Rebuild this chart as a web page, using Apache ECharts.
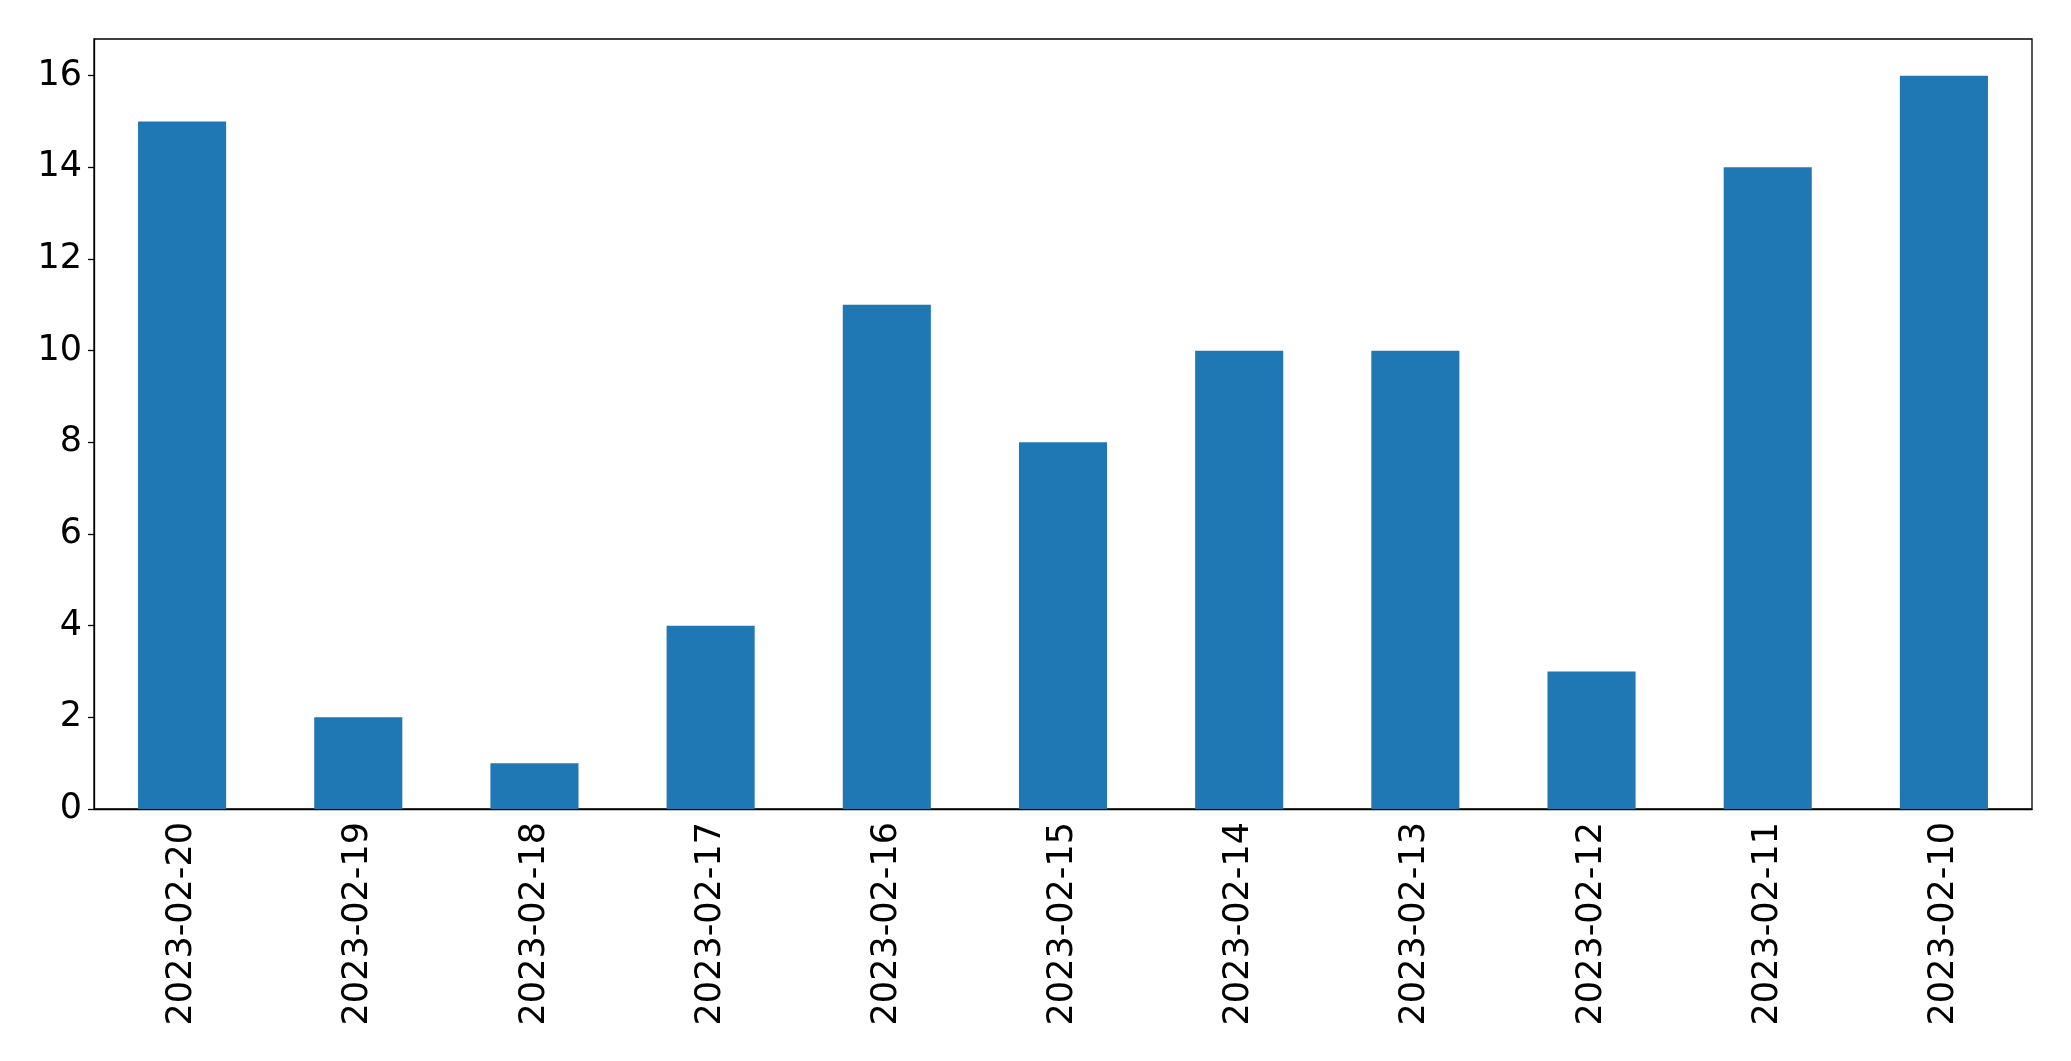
<!DOCTYPE html>
<html>
<head>
<meta charset="utf-8">
<script src="https://cdn.jsdelivr.net/npm/echarts@6/dist/echarts.min.js"></script>
<style>html,body{margin:0;padding:0;background:#fff}#c{width:2071px;height:1061px}</style>
</head>
<body>
<div id="c"></div>
<script>
const categories = ["2023-02-20","2023-02-19","2023-02-18","2023-02-17","2023-02-16","2023-02-15","2023-02-14","2023-02-13","2023-02-12","2023-02-11","2023-02-10"];
const values = [15, 2, 1, 4, 11, 8, 10, 10, 3, 14, 16];
const yTicks = [0, 2, 4, 6, 8, 10, 12, 14, 16];

const chart = echarts.init(document.getElementById('c'));
const font = 'DejaVu Sans';
chart.setOption({
  animation: false,
  grid: { left: 94, right: 39, top: 39, bottom: 252, show: true, borderColor: '#000', borderWidth: 1.3, backgroundColor: 'transparent' },
  xAxis: {
    type: 'category',
    data: categories,
    axisLine: { lineStyle: { color: '#000', width: 1.3 } },
    axisTick: { alignWithLabel: true, length: 6, lineStyle: { color: '#000', width: 1.3 } },
    axisLabel: { rotate: 90, margin: 13, color: '#000', fontSize: 35, fontFamily: font, interval: 0 },
    splitLine: { show: false }
  },
  yAxis: {
    type: 'value',
    min: 0, max: 16.8, interval: 2,
    axisLine: { show: true, lineStyle: { color: '#000', width: 1.3 } },
    axisTick: { show: true, length: 6, customValues: yTicks, lineStyle: { color: '#000', width: 1.3 } },
    axisLabel: { margin: 12, color: '#000', fontSize: 35, fontFamily: font, customValues: yTicks },
    splitLine: { show: false }
  },
  series: [{
    type: 'bar',
    data: values,
    barWidth: '50%',
    itemStyle: { color: '#1f77b4' }
  }]
});
</script>
</body>
</html>
